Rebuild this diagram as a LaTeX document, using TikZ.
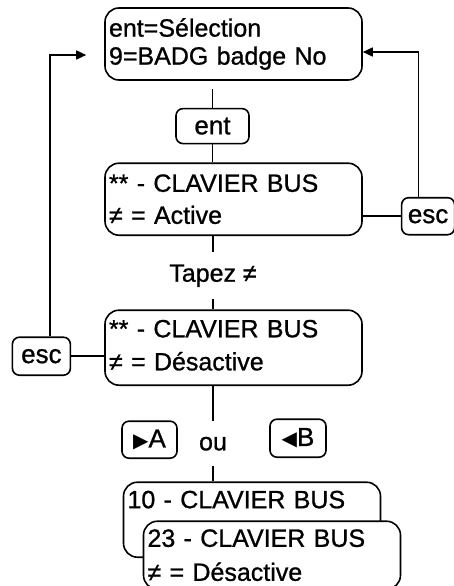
\documentclass[tikz,border=0pt]{standalone}
\usepackage{fontspec}
\setmainfont{Liberation Sans}[FakeBold=0.9]
\newfontfamily\tipfont{DejaVu Sans}
\usetikzlibrary{positioning, arrows.meta}

\begin{document}
\begin{tikzpicture}[x=1pt, y=-1pt,
            every node/.style={font=\fontsize{25}{28}\selectfont},
            screen/.style={draw, rectangle, rounded corners=14pt, line width=1.6pt, minimum width=257pt, minimum height=72pt, text width=249pt, inner sep=4pt, align=left},
            keybox/.style={draw, rectangle, rounded corners=7pt, line width=1.6pt, minimum width=55pt, minimum height=37pt, inner sep=1pt, font=\fontsize{26}{28}\selectfont},
            txt/.style={inner sep=0pt, minimum width=42pt, minimum height=45pt},
            link/.style={line width=1.6pt},
            arrow/.style={line width=1.6pt, -{Triangle[length=10pt, width=9pt]}}]

    \useasboundingbox (0,0) rectangle (454,586);

    % Menu
    \node (sel) [screen] at (233.5,44) {ent=Sélection\\9=BADG badge No};
    \node (entkey) [keybox, below=27pt of sel, xshift=-21pt, minimum width=73pt, minimum height=35pt] {ent};
    \node (active) [screen, below=18pt of entkey, xshift=21pt] {** - CLAVIER BUS\\[4pt]≠ = Active};
    \node (escR) [keybox, right=38pt of active, yshift=-17pt, minimum width=53pt] {esc};

    % Toggle
    \node (tapez) [txt, below=16pt of active, xshift=-20.5pt, minimum height=47pt] {Tapez ≠};
    \node (desact) [screen, below=10pt of tapez, xshift=20.5pt, minimum height=75pt] {** - CLAVIER BUS\\[5pt]≠ = Désactive\vphantom{g}};
    \node (escL) [keybox, left=33pt of desact, yshift=-8.5pt, minimum width=58pt, minimum height=38pt] {esc};

    % Scroll
    \node (ou) [txt, below=35pt of desact, xshift=-20.5pt] {ou};
    \node (keyA) [keybox, left=14pt of ou, yshift=4pt] {{\tipfont\fontsize{20}{20}\selectfont ▶}A};
    \node (keyB) [keybox, right=35pt of ou, yshift=5.5pt, minimum width=56pt, minimum height=38pt] {{\tipfont\fontsize{20}{20}\selectfont ◀}B};
    \node (list10) [screen, below=15pt of ou, xshift=39pt, text height=22pt, text depth=45pt, minimum height=0pt] {10 - CLAVIER BUS};
    \node (list23) [screen, anchor=north west, fill=white, minimum height=68pt] at ([shift={(20pt,-39pt)}]list10.north west) {23 - CLAVIER BUS\\[6pt]≠ = Désactive};

    % Connections
    \draw [link, shorten <=8pt] (entkey.north |- sel.south) -- (entkey.north);
    \draw [link] (entkey.south) -- (entkey.south |- active.north);
    \draw [link] (tapez.north |- active.south) -- (tapez.north);
    \draw [link] (tapez.south) -- (tapez.south |- desact.north);
    \draw [link] (ou.north |- desact.south) -- (ou.north);
    \draw [link] (ou.south) -- (ou.south |- list10.north);
    \draw [link] (active.east |- escR.west) -- (escR.west);
    \draw [arrow] ([xshift=-9.5pt]escR.north) |- ([yshift=-8pt]sel.east);
    \draw [link] (escL.east) -- (escL.east -| desact.west);
    \coordinate (backL) at ([xshift=-18pt, yshift=-11pt]sel.west);
    \draw [arrow] ([xshift=8.5pt]escL.north) |- (backL);
\end{tikzpicture}
\end{document}
